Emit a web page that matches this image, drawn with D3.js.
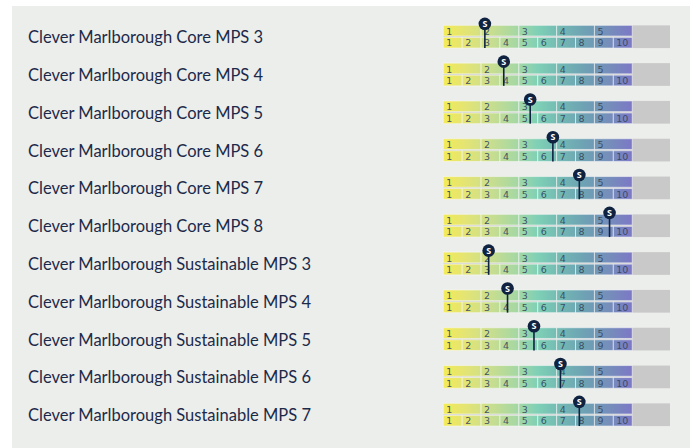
<!DOCTYPE html>
<html>
<head>
<meta charset="utf-8">
<script src="https://cdn.jsdelivr.net/npm/d3@7"></script>
<style>
  html, body { margin: 0; padding: 0; background: #ffffff; }
  svg { display: block; }
</style>
</head>
<body>
<svg id="chart" width="690" height="448"></svg>
<script>
const funds = [
  "Clever Marlborough Core MPS 3",
  "Clever Marlborough Core MPS 4",
  "Clever Marlborough Core MPS 5",
  "Clever Marlborough Core MPS 6",
  "Clever Marlborough Core MPS 7",
  "Clever Marlborough Core MPS 8",
  "Clever Marlborough Sustainable MPS 3",
  "Clever Marlborough Sustainable MPS 4",
  "Clever Marlborough Sustainable MPS 5",
  "Clever Marlborough Sustainable MPS 6",
  "Clever Marlborough Sustainable MPS 7"
];
const scores = [2.2, 3.2, 4.6, 5.8, 7.2, 8.8, 2.4, 3.4, 4.8, 6.2, 7.2];
const bandLabels = ["1", "2", "3", "4", "5"];
const scaleLabels = ["1", "2", "3", "4", "5", "6", "7", "8", "9", "10"];
const scaleMax = 10;
const trackMax = 12;
const markerLabel = "S";

const svg = d3.select("#chart");
const W = 690, H = 448;

svg.append("rect").attr("x", 12).attr("y", 6).attr("width", W - 12).attr("height", H - 6)
  .attr("fill", "#eceeeb");

const x = d3.scaleLinear().domain([0, trackMax]).range([443.3, 670]);
const y = d3.scaleBand().domain(funds).range([25.3 - 7.5, 25.3 - 7.5 + 37.8 * funds.length]).paddingInner(0.4).paddingOuter(0.2);
const barH = 22.7;
const rowTop = d => y(d) + (y.bandwidth() - barH) / 2;

const defs = svg.append("defs");
const grad = defs.append("linearGradient").attr("id", "g")
  .attr("gradientUnits", "userSpaceOnUse")
  .attr("x1", x(0)).attr("x2", x(scaleMax)).attr("y1", 0).attr("y2", 0);
[
  [0, "#f3eb58"], [0.12, "#e3e474"], [0.25, "#c9de8e"], [0.38, "#a8d8a2"],
  [0.5, "#7fd0b6"], [0.62, "#72b8b3"], [0.75, "#6ea1b4"], [0.87, "#758fba"],
  [1, "#7c78c6"]
].forEach(([o, c]) => grad.append("stop").attr("offset", o).attr("stop-color", c));

const rows = svg.selectAll("g.row").data(funds).join("g").attr("class", "row");

rows.append("text")
  .attr("x", 28)
  .attr("y", d => rowTop(d) + barH / 2 + 0.5)
  .attr("dy", "0.36em")
  .attr("font-family", "Lato, sans-serif")
  .attr("font-size", 16.5)
  .attr("fill", "#1c2a4a")
  .text(d => d);

rows.append("rect")
  .attr("x", x(0)).attr("y", d => rowTop(d))
  .attr("width", x(trackMax) - x(0)).attr("height", barH)
  .attr("fill", "#c9c9c9");

const topH = 10.7, botY = 12, botH = barH - 12;

rows.each(function(d) {
  const g = d3.select(this);
  const t = rowTop(d);
  bandLabels.forEach((lab, k) => {
    g.append("rect").attr("x", x(2 * k)).attr("y", t)
      .attr("width", x(2 * k + 2) - x(2 * k)).attr("height", topH)
      .attr("fill", "url(#g)").attr("stroke", "rgba(255,255,255,0.55)").attr("stroke-width", 1);
    g.append("text").attr("x", x(2 * k) + 3).attr("y", t + topH - 1.3)
      .attr("font-family", "'DejaVu Sans', sans-serif").attr("font-size", 9.5)
      .attr("fill", "#34445a").attr("fill-opacity", 0.9).text(lab);
  });
  scaleLabels.forEach((lab, k) => {
    g.append("rect").attr("x", x(k)).attr("y", t + botY)
      .attr("width", x(k + 1) - x(k)).attr("height", botH)
      .attr("fill", "url(#g)").attr("stroke", "rgba(255,255,255,0.55)").attr("stroke-width", 1);
    g.append("text").attr("x", x(k) + 3).attr("y", t + botY + botH - 1.6)
      .attr("font-family", "'DejaVu Sans', sans-serif").attr("font-size", 9.5)
      .attr("fill", "#34445a").attr("fill-opacity", 0.9).text(lab);
  });
});

rows.append("line")
  .attr("x1", (d, i) => x(scores[i])).attr("x2", (d, i) => x(scores[i]))
  .attr("y1", d => rowTop(d) - 1.5).attr("y2", d => rowTop(d) + barH)
  .attr("stroke", "#0f2240").attr("stroke-width", 1.6);

rows.append("circle")
  .attr("cx", (d, i) => x(scores[i])).attr("cy", d => rowTop(d) - 1.5)
  .attr("r", 6.3).attr("fill", "#0f2240");

rows.append("text")
  .attr("x", (d, i) => x(scores[i])).attr("y", d => rowTop(d) - 1.5)
  .attr("dy", "0.36em").attr("text-anchor", "middle")
  .attr("font-family", "'Open Sans', sans-serif").attr("font-weight", 700)
  .attr("font-size", 9).attr("fill", "#ffffff").text(markerLabel);
</script>
</body>
</html>
